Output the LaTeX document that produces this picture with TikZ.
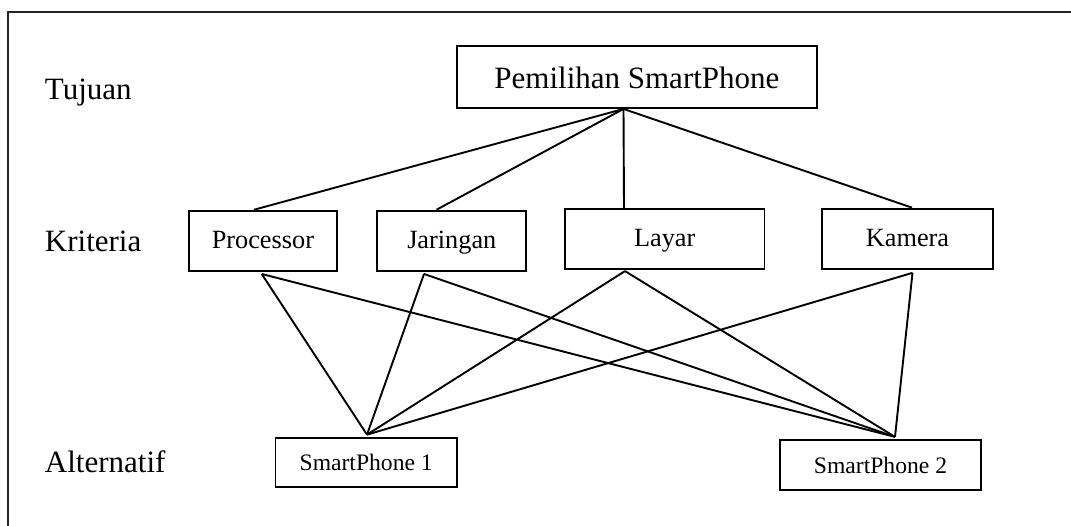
\documentclass[tikz,border=0pt]{standalone}
\usepackage{fontspec}
\setmainfont{Liberation Serif}
\begin{document}
\begin{tikzpicture}[x=1pt,y=-1pt,
  line width=1.9pt,
  levellabel/.style={anchor=base west,inner sep=0pt,font=\fontsize{31}{37}\selectfont},
  goalbox/.style={draw,rectangle,inner sep=0pt,font=\fontsize{31}{37}\selectfont,
    text height=22.6pt,text depth=0pt},
  critbox/.style={draw,rectangle,inner sep=0pt,minimum height=60.3pt,
    font=\fontsize{26.3}{31}\selectfont,text height=18.4pt,text depth=3.8pt},
  altbox/.style={draw,rectangle,inner sep=0pt,minimum height=49.3pt,
    font=\fontsize{23.6}{28}\selectfont,text height=17pt,text depth=0pt},
  link/.style={line width=1.9pt}]
\useasboundingbox (0,0) rectangle (1071,526);
\fill[white] (0,0) rectangle (1071,526);

% outer frame (left and top sides)
\draw[black!85,line width=2pt] (8,530) -- (8,12) -- (1075,12);

% level labels
\node[levellabel] (lTujuan) at (44,100) {Tujuan};
\node[levellabel] (lKriteria) at (44,252) {Kriteria};
\node[levellabel] (lAlternatif) at (44,472) {Alternatif};

% goal
\node[goalbox,minimum width=360.3pt,minimum height=62pt] (goal) at (636.9,77) {Pemilihan SmartPhone};

% criteria
\node[critbox,minimum width=147.8pt] (proc) at (262.9,240.85) {Processor};
\node[critbox,minimum width=148.8pt] (jar)  at (451.8,240.85) {Jaringan};
\node[critbox,minimum width=199.6pt] (lay)  at (664.7,239) {Layar};
\node[critbox,minimum width=171pt]   (kam)  at (907.5,238.75) {Kamera};

% alternatives
\node[altbox,minimum width=181.5pt] (sp1) at (366.2,462.25) {SmartPhone 1};
\node[altbox,minimum width=201pt]   (sp2) at (880.5,465) {SmartPhone 2};

% attachment points
\coordinate (goalB) at ([xshift=-13.4pt]goal.south);
\coordinate (procT) at ([xshift=-8.9pt]proc.north);
\coordinate (jarT)  at ([xshift=-15.3pt]jar.north);
\coordinate (layT)  at ([xshift=-40.7pt]lay.north);
\coordinate (kamT)  at ([xshift=4.5pt]kam.north);
\coordinate (procB) at ([xshift=-1.2pt,yshift=-2pt]proc.south);
\coordinate (jarB)  at ([xshift=-27.8pt,yshift=-2pt]jar.south);
\coordinate (layB)  at ([xshift=-39.7pt,yshift=-1pt]lay.south);
\coordinate (kamB)  at ([xshift=5pt,yshift=-3pt]kam.south);
\coordinate (sp1T)  at ([xshift=0.8pt,yshift=2pt]sp1.north);
\coordinate (sp2T)  at ([xshift=14.5pt,yshift=2.5pt]sp2.north);

% goal to criteria
\draw[link] (goalB) -- (procT);
\draw[link] (goalB) -- (jarT);
\draw[link] (goalB) -- (layT);
\draw[link] (goalB) -- (kamT);

% criteria to alternatives
\foreach \c in {procB,jarB,layB,kamB}{
  \draw[link] (\c) -- (sp1T);
  \draw[link] (\c) -- (sp2T);
}
\end{tikzpicture}
\end{document}
